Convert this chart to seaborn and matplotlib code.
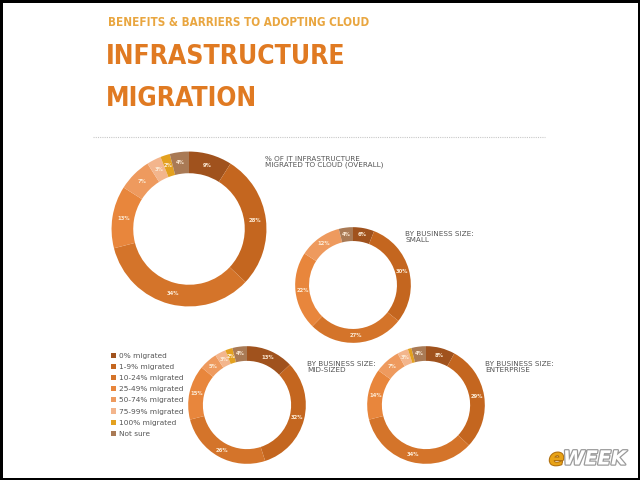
import numpy as np
import matplotlib
matplotlib.use('Agg')
import matplotlib.pyplot as plt
import matplotlib.patheffects as pe
from matplotlib import font_manager as fm
from matplotlib.patches import Patch
from matplotlib.lines import Line2D
import seaborn as sns

sns.set_theme(style='white')
plt.rcParams['font.family'] = ['DejaVu Sans']

categories = ['0% migrated', '1-9% migrated', '10-24% migrated', '25-49% migrated',
              '50-74% migrated', '75-99% migrated', '100% migrated', 'Not sure']
overall = [9, 28, 34, 13, 7, 3, 2, 4]
small = [6, 30, 27, 22, 12, 0, 0, 4]
mid_sized = [13, 32, 26, 15, 5, 3, 2, 4]
enterprise = [8, 29, 34, 14, 7, 3, 1, 4]

colors = ['#A0521D', '#C4661F', '#D4742A', '#E8863C',
          '#EE9A5E', '#F3B58C', '#E3A11F', '#A97A55']

# look for a narrow / condensed bold face if one is installed
narrow_file = None
for f in fm.fontManager.ttflist:
    tag = (f.name + ' ' + f.fname).lower()
    if ('narrow' in tag or 'condensed' in tag) and f.weight in ('bold', 700) \
            and f.style == 'normal':
        narrow_file = f.fname
        break


def title_font(size):
    if narrow_file:
        return fm.FontProperties(fname=narrow_file, size=size)
    return fm.FontProperties(family='DejaVu Sans', weight='bold', size=size)


W, H = 640, 480
fig = plt.figure(figsize=(6.4, 4.8), dpi=100)
fig.patch.set_facecolor('white')
fig.patch.set_edgecolor('black')
fig.patch.set_linewidth(2.5)
renderer = fig.canvas.get_renderer()


def fitted_text(x, y, s, target_w, color, max_size):
    # shrink the font until the text is as wide as in the reference
    t = fig.text(x / W, 1 - y / H, s, color=color, ha='left', va='center',
                 fontproperties=title_font(max_size))
    w = t.get_window_extent(renderer).width
    size = max_size * min(1.0, target_w / w)
    t.set_fontproperties(title_font(size))
    return size


def donut(vals, cx, cy, r, ring):
    # cx, cy, r in pixels of the 640x480 canvas
    ax = fig.add_axes([(cx - r) / W, (H - cy - r) / H, 2 * r / W, 2 * r / H])
    wedges, _ = ax.pie(vals, colors=colors, startangle=90, counterclock=False,
                       radius=1, wedgeprops=dict(width=ring, linewidth=0))
    for w, v in zip(wedges, vals):
        if v < 2:
            continue
        ang = np.deg2rad((w.theta1 + w.theta2) / 2)
        rr = 1 - ring / 2
        ax.text(rr * np.cos(ang), rr * np.sin(ang), f'{v}%', ha='center', va='center',
                fontsize=3.8, color='#FCEBD6', fontweight='bold')
    ax.set_xlim(-1.02, 1.02)
    ax.set_ylim(-1.02, 1.02)
    ax.set_aspect('equal')
    ax.axis('off')
    return ax


donut(overall, 189, 229, 79, 0.28)
donut(small, 353, 285, 59, 0.24)
donut(mid_sized, 247, 405, 60, 0.25)
donut(enterprise, 426, 405, 60, 0.25)

# Titles
fitted_text(108, 23, 'BENEFITS & BARRIERS TO ADOPTING CLOUD', 262, '#E9A640', 16)
big = fitted_text(106, 57, 'INFRASTRUCTURE', 240, '#E07A22', 36)
fig.text(106 / W, 1 - 99 / H, 'MIGRATION', color='#E07A22', ha='left', va='center',
         fontproperties=title_font(big))

# dotted separator
fig.add_artist(Line2D([93 / W, 545 / W], [1 - 137 / H, 1 - 137 / H], color='#c8c8c8',
                      lw=0.8, ls=(0, (1, 1))))

# chart captions
captions = [('% OF IT INFRASTRUCTURE\nMIGRATED TO CLOUD (OVERALL)', 265, 162),
            ('BY BUSINESS SIZE:\nSMALL', 405, 237),
            ('BY BUSINESS SIZE:\nMID-SIZED', 307, 367),
            ('BY BUSINESS SIZE:\nENTERPRISE', 485, 367)]
for txt, x, y in captions:
    fig.text(x / W, 1 - y / H, txt, fontsize=5.2, color='#555555', ha='left',
             va='center', linespacing=1.0)

# legend
handles = [Patch(facecolor=c, edgecolor='none') for c in colors]
fig.legend(handles, categories, loc='upper left', bbox_to_anchor=(104 / W, 1 - 346 / H),
           frameon=False, fontsize=5.3, handlelength=0.7, handleheight=0.7,
           handletextpad=0.4, labelspacing=0.68, labelcolor='#555555')

# eWEEK logo
fig.text(549 / W, 1 - 459 / H, 'e', fontsize=16, fontweight='bold', style='italic',
         color='#E8A317', ha='left', va='center',
         path_effects=[pe.withStroke(linewidth=1.5, foreground='#b07010')])
fig.text(563 / W, 1 - 459 / H, 'WEEK', fontsize=14, fontweight='bold', style='italic',
         color='white', ha='left', va='center',
         path_effects=[pe.withStroke(linewidth=1.8, foreground='#9a9a9a')])

plt.savefig('out.png', dpi=100, facecolor=fig.get_facecolor(), edgecolor='black')
